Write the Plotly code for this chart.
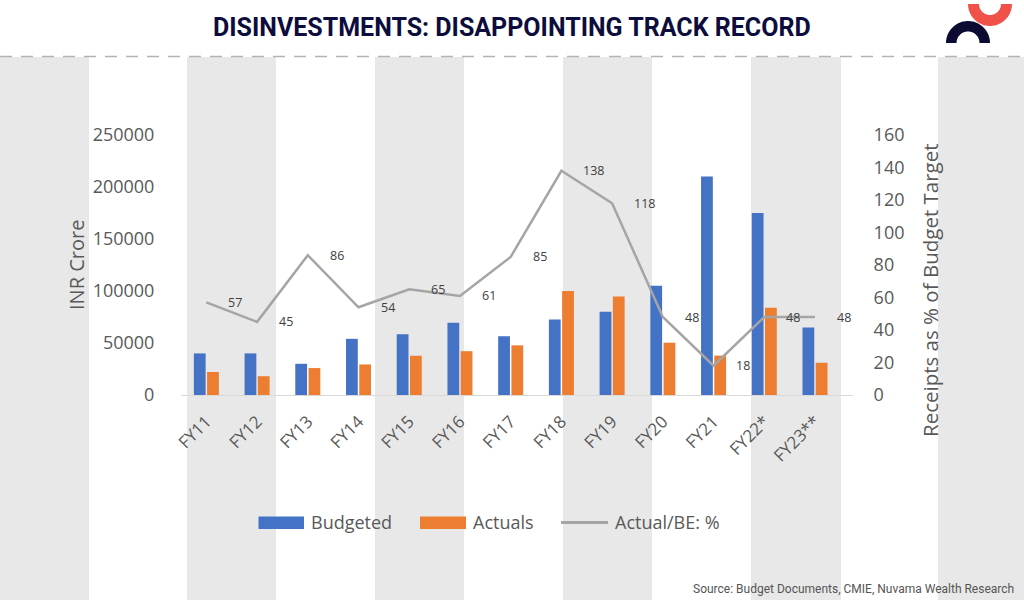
import numpy as np
import plotly.graph_objects as go

W, H = 1024, 600

years = ["FY11", "FY12", "FY13", "FY14", "FY15", "FY16", "FY17", "FY18",
         "FY19", "FY20", "FY21", "FY22*", "FY23**"]
budgeted = [40000, 40000, 30000, 54000, 58425, 69500, 56500, 72500,
            80000, 105000, 210000, 175000, 65000]
actuals = [22144, 18088, 25890, 29368, 37737, 42132, 47743, 100045,
           94727, 50299, 37897, 84000, 31000]
ratio = [57, 45, 86, 54, 65, 61, 85, 138, 118, 48, 18, 48, 48]

left_ticks = [0, 50000, 100000, 150000, 200000, 250000]
right_ticks = [0, 20, 40, 60, 80, 100, 120, 140, 160]

series_names = ["Budgeted", "Actuals", "Actual/BE: %"]


def px(x):
    return x / W


def py(y):
    return 1 - y / H


BLUE = "#4472C4"
ORANGE = "#ED7D31"
GREY = "#A5A5A5"
TXT = "#595959"
FONT = "Open Sans"

fig = go.Figure()
fig.add_trace(go.Bar(x=years, y=budgeted, name=series_names[0], marker_color=BLUE,
                     marker_line_width=0, showlegend=False))
fig.add_trace(go.Bar(x=years, y=actuals, name=series_names[1], marker_color=ORANGE,
                     marker_line_width=0, showlegend=False))
fig.add_trace(go.Scatter(x=years, y=ratio, name=series_names[2], yaxis="y2",
                         mode="lines", line=dict(color=GREY, width=2.5),
                         showlegend=False))

shapes = []
# background stripes
for x0, x1 in [(0, 89), (187, 276), (375, 464), (563, 652), (751, 841), (938, 1024)]:
    shapes.append(dict(type="rect", xref="paper", yref="paper",
                       x0=px(x0), x1=px(x1), y0=0, y1=py(57),
                       fillcolor="#E8E8E8", line_width=0, layer="below"))
# dashed separator
shapes.append(dict(type="line", xref="paper", yref="paper", x0=0, x1=1,
                   y0=py(56.5), y1=py(56.5),
                   line=dict(color="#B3B3B3", width=1.5, dash="12px,9px")))


def ring_path(cx, cy, ro, ri, upper=True):
    t = np.linspace(0, np.pi, 40)
    s = -1 if upper else 1
    outer = [(cx - ro * np.cos(a), cy + s * ro * np.sin(a)) for a in t]
    inner = [(cx + ri * np.cos(a), cy + s * ri * np.sin(a)) for a in t]
    pts = outer + inner
    d = "M" + " L".join(f"{px(x):.5f},{py(y):.5f}" for x, y in pts) + " Z"
    return d


# logo
shapes.append(dict(type="path", xref="paper", yref="paper",
                   path=ring_path(990, 4, 22, 11, upper=False),
                   fillcolor="#F0524A", line_width=0))
shapes.append(dict(type="path", xref="paper", yref="paper",
                   path=ring_path(968, 43, 22, 11.5, upper=True),
                   fillcolor="#0A0A33", line_width=0))

# legend (drawn manually to match wide swatches)
legend_items = [
    ("rect", BLUE, 258.5, 304, series_names[0], 309),
    ("rect", ORANGE, 420, 466, series_names[1], 471),
    ("line", GREY, 561, 608, series_names[2], 613),
]
annotations = []
for kind, col, x0, x1, label, tx in legend_items:
    if kind == "rect":
        shapes.append(dict(type="rect", xref="paper", yref="paper",
                           x0=px(x0), x1=px(x1), y0=py(529), y1=py(516.5),
                           fillcolor=col, line_width=0))
    else:
        shapes.append(dict(type="line", xref="paper", yref="paper",
                           x0=px(x0), x1=px(x1), y0=py(522.5), y1=py(522.5),
                           line=dict(color=col, width=3)))
    annotations.append(dict(text=label, x=px(tx), y=py(522), xref="paper",
                            yref="paper", showarrow=False, xanchor="left",
                            yanchor="middle",
                            font=dict(family=FONT, size=18, color=TXT)))

annotations.append(dict(text="<b>DISINVESTMENTS: DISAPPOINTING TRACK RECORD</b>",
                        x=0.5, y=py(27), xref="paper", yref="paper",
                        showarrow=False, xanchor="center", yanchor="middle",
                        font=dict(family="Roboto", size=25, color="#0D0D3D")))
annotations.append(dict(text="Source: Budget Documents, CMIE, Nuvama Wealth Research",
                        x=px(1016), y=py(589), xref="paper", yref="paper",
                        showarrow=False, xanchor="right", yanchor="middle",
                        font=dict(family="Roboto", size=12, color="#555555")))
annotations.append(dict(text="INR Crore", x=px(76), y=py(265), xref="paper",
                        yref="paper", showarrow=False, textangle=-90,
                        xanchor="center", yanchor="middle",
                        font=dict(family=FONT, size=20, color=TXT)))
annotations.append(dict(text="Receipts as % of Budget Target", x=px(930), y=py(290),
                        xref="paper", yref="paper", showarrow=False, textangle=-90,
                        xanchor="center", yanchor="middle",
                        font=dict(family=FONT, size=20.5, color=TXT)))
for yr, r in zip(years, ratio):
    annotations.append(dict(text=str(r), x=yr, y=r, xref="x", yref="y2",
                            showarrow=False, xanchor="left", yanchor="middle",
                            xshift=20, font=dict(family=FONT, size=12.5,
                                                 color="#404040")))

fig.update_layout(
    width=W, height=H,
    margin=dict(l=0, r=0, t=0, b=0),
    paper_bgcolor="white", plot_bgcolor="rgba(0,0,0,0)",
    barmode="group", bargap=0.478, bargroupgap=0.11,
    shapes=shapes, annotations=annotations,
    showlegend=False,
    xaxis=dict(domain=[px(181), px(853)], type="category",
               showline=True, linecolor="#D9D9D9", linewidth=1,
               showgrid=False, zeroline=False, tickangle=-45,
               tickfont=dict(family=FONT, size=17, color=TXT),
               ticks="outside", ticklen=9, tickcolor="rgba(0,0,0,0)",
               automargin=False),
    yaxis=dict(domain=[py(395), py(135)], range=[0, 250000],
               tickvals=left_ticks, ticktext=[str(v) for v in left_ticks],
               showgrid=False, zeroline=False, showline=False,
               tickfont=dict(family=FONT, size=18, color=TXT),
               ticks="outside", ticklen=22, tickcolor="rgba(0,0,0,0)",
               automargin=False),
    yaxis2=dict(domain=[py(395), py(135)], range=[0, 160], overlaying="y",
                side="right", anchor="x", tickvals=right_ticks,
                showgrid=False, zeroline=False, showline=False,
                tickfont=dict(family=FONT, size=18, color=TXT),
                ticks="outside", ticklen=16, tickcolor="rgba(0,0,0,0)",
                automargin=False),
)

fig.write_html("out.html", config={"displayModeBar": False},
               post_script="document.body.style.margin='0';"
                           "document.body.style.padding='0';"
                           "document.body.style.overflow='hidden';")
